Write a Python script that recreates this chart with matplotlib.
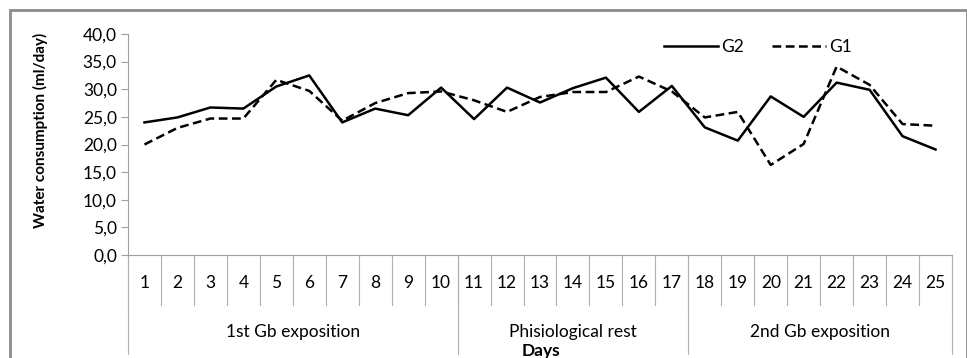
import numpy as np
import matplotlib
matplotlib.use("Agg")
import matplotlib.pyplot as plt
from matplotlib.patches import Rectangle
from matplotlib.ticker import FuncFormatter

plt.rcParams['font.family'] = ['Lato', 'DejaVu Sans']

# data
days = list(range(1, 26))
g2 = [24.0, 24.9, 26.7, 26.5, 30.5, 32.5, 24.0, 26.5, 25.3, 30.3,
      24.6, 30.3, 27.6, 30.2, 32.1, 25.9, 30.6, 23.1, 20.7, 28.7,
      25.0, 31.2, 29.9, 21.5, 19.1]
g1 = [20.0, 23.0, 24.7, 24.7, 31.7, 29.7, 24.3, 27.5, 29.3, 29.6,
      28.0, 25.9, 28.6, 29.5, 29.5, 32.3, 29.6, 24.9, 25.9, 16.3,
      20.1, 34.1, 30.8, 23.7, 23.4]
groups = ["1st Gb exposition", "Phisiological rest", "2nd Gb exposition"]
group_edges = [0.5, 10.5, 17.5, 25.5]

fs = 12.5
W, H = 967, 358
fig = plt.figure(figsize=(W / 100, H / 100), dpi=100)
ax = fig.add_axes([128 / W, (H - 255) / H, (952 - 128) / W, (255 - 34) / H])

ax.plot(days, g2, color="black", lw=1.8, label="G2")
ax.plot(days, g1, color="black", lw=1.8, linestyle=(0, (3.5, 1.8)), label="G1")

ax.set_xlim(0.5, 25.5)
ax.set_ylim(0, 40)
ax.set_yticks(np.arange(0, 41, 5))
ax.yaxis.set_major_formatter(FuncFormatter(lambda v, p: f"{v:.1f}".replace(".", ",")))
ax.tick_params(axis="y", labelsize=fs, length=5, color="#a0a0a0", pad=3)
ax.set_xticks([])

for s in ["top", "right"]:
    ax.spines[s].set_visible(False)
for s in ["left", "bottom"]:
    ax.spines[s].set_color("#a0a0a0")

# category axis below the plot
tr = ax.get_xaxis_transform()
ah = 255 - 34
for e in np.arange(0.5, 26, 1):
    ax.plot([e, e], [0, -50 / ah], transform=tr, color="#b0b0b0", lw=0.8, clip_on=False)
for e in group_edges:
    ax.plot([e, e], [0, -99 / ah], transform=tr, color="#b0b0b0", lw=0.8, clip_on=False)
for d in days:
    ax.text(d, -28 / ah, str(d), transform=tr, ha="center", va="center", fontsize=fs)
for i, g in enumerate(groups):
    xc = (group_edges[i] + group_edges[i + 1]) / 2
    ax.text(xc, -77 / ah, g, transform=tr, ha="center", va="center", fontsize=fs)

fig.text(541 / W, 1 - 351 / H, "Days", ha="center", va="center", fontsize=fs, fontweight="bold")
fig.text(40 / W, 1 - 130 / H, "Water consumption (ml/day)", rotation=90,
         ha="center", va="center", fontsize=11, fontweight="bold")

ax.legend(loc="center left", bbox_to_anchor=(664 / W, 1 - 47 / H), bbox_transform=fig.transFigure,
          ncol=2, frameon=False, fontsize=fs, handlelength=3.1, handletextpad=0.2,
          columnspacing=1.6, borderpad=0, borderaxespad=0)

# outer frame
fig.patches.append(Rectangle((10 / W, -0.1), (W - 10) / W, 1 - 10 / H + 0.1,
                             transform=fig.transFigure, fill=False, edgecolor="#8c8c8c", lw=2))

fig.savefig("out.png", dpi=100)
